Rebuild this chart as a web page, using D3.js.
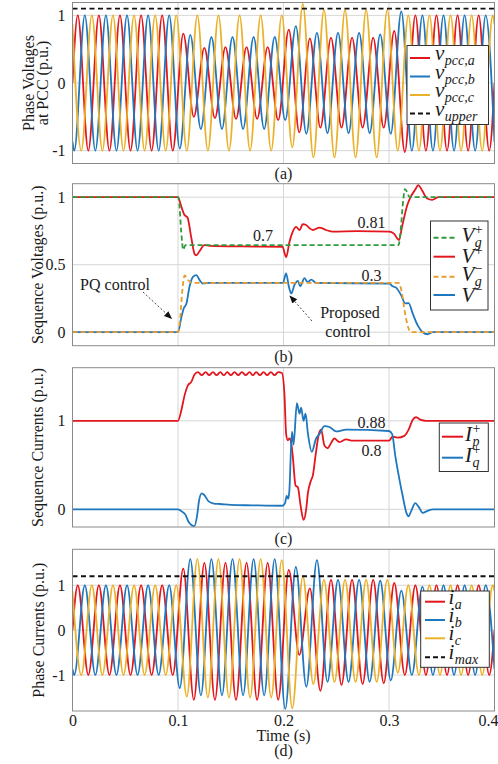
<!DOCTYPE html>
<html>
<head>
<meta charset="utf-8">
<script src="https://cdn.jsdelivr.net/npm/d3@7"></script>
<style>
  body { margin: 0; background: #fff; }
  svg text { font-family: "Liberation Serif", "Times New Roman", serif; fill: #1a1a1a; }
</style>
</head>
<body>
<div id="chart"></div>
<script>
// ---------- data ----------
const timeTicks = [0, 0.1, 0.2, 0.3, 0.4];
const halfCycle = 0.01;   // 50 Hz -> one peak every 10 ms

// phase voltages at PCC: value of every successive peak / trough, plus the value at t=0 and t=0.4
const vaFirst = 0.005, vbFirst = 0.00167, vcFirst = 0.00833;
const vaPeaks = [1, -1, 1, -1, 1, -1, 1, -1, 1, -1,
  0.73, -0.5, 0.52, -0.52, 0.53, -0.53, 0.53, -0.53, 0.53, -0.55,
  0.79, -0.73, 0.66, -0.66, 0.67, -0.66, 0.67, -0.66, 0.67, -0.66,
  0.77, -1.02, 1, -1, 1, -1, 1, -1, 1, -1];
const vbPeaks = [-1, 1, -1, 1, -1, 1, -1, 1, -1, 1,
  -0.97, 0.71, -0.68, 0.68, -0.68, 0.68, -0.68, 0.68, -0.68, 0.68,
  -0.55, 0.84, -0.75, 0.74, -0.74, 0.74, -0.74, 0.74, -0.74, 0.72,
  -0.75, 1.06, -1, 1, -1, 1, -1, 1, -1, 1];
const vcPeaks = [-1, 1, -1, 1, -1, 1, -1, 1, -1, 1,
  -1, 1, -1, 1, -1, 1, -1, 1, -1, 1,
  -0.95, 1.17, -1.1, 1.08, -1.1, 1.08, -1.1, 1.08, -1.1, 1.08,
  -1, 1, -1, 1, -1, 1, -1, 1, -1, 1];
const vaEnds = [0, 0], vbEnds = [-0.87, -0.87], vcEnds = [0.87, 0.87];
const vUpper = 1.1;

// phase currents
const iaPeaks = [1, -1, 1, -1, 1, -1, 1, -1, 1, -1,
  1.37, -1.55, 1.5, -1.55, 1.5, -1.55, 1.5, -1.55, 1.5, -1.55,
  1.34, -0.55, 0.93, -1.35, 1.12, -1.22, 1.12, -1.2, 1.12, -1.18,
  1.05, -1, 1, -1, 1, -1, 1, -1, 1, -1];
const ibPeaks = [-1, 1, -1, 1, -1, 1, -1, 1, -1, 1,
  -1.29, 1.58, -1.45, 1.58, -1.45, 1.58, -1.45, 1.58, -1.45, 1.58,
  -1.75, 1.41, -1.26, 1.56, -1.15, 1.12, -1.15, 1.12, -1.15, 1.1,
  -1.12, 0.88, -1, 0.97, -1, 1, -1, 1, -1, 1];
const icPeaks = [-1, 1, -1, 1, -1, 1, -1, 1, -1, 1,
  -1.48, 1.58, -1.5, 1.58, -1.5, 1.58, -1.5, 1.58, -1.5, 1.56,
  -1.74, 1.2, -1.2, 1.12, -1.15, 1.12, -1.15, 1.12, -1.15, 1.12,
  -0.95, 1, -1, 1, -1, 1, -1, 1, -1, 1];
const iMax = 1.2;

// sequence voltages [time, value]
const vgPlus = [[0, 1], [0.1, 1], [0.101, 0.97], [0.103, 0.75], [0.105, 0.61], [0.107, 0.645],
  [0.309, 0.645], [0.311, 0.75], [0.3135, 0.98], [0.315, 1.06], [0.317, 1.04], [0.3195, 1.0], [0.4, 1]];
const vPlus = [[0, 1], [0.0999, 1], [0.1028, 0.94], [0.106, 0.87], [0.109, 0.85], [0.1126, 0.7],
  [0.1157, 0.58], [0.1173, 0.57], [0.1204, 0.6], [0.125, 0.645], [0.13, 0.64], [0.16, 0.635],
  [0.199, 0.633], [0.2025, 0.556], [0.2057, 0.67], [0.2088, 0.745], [0.212, 0.78], [0.2152, 0.757],
  [0.2183, 0.8], [0.2215, 0.794], [0.2246, 0.77], [0.2278, 0.757], [0.2341, 0.775], [0.2404, 0.757],
  [0.2467, 0.745], [0.27, 0.748], [0.3, 0.745], [0.3047, 0.73], [0.3094, 0.683], [0.3126, 0.79],
  [0.3173, 0.94], [0.3204, 1.0], [0.3252, 1.06], [0.3277, 1.09], [0.3314, 1.05], [0.3362, 0.99],
  [0.3409, 0.98], [0.347, 1.0], [0.4, 1]];
const vgMinus = [[0, 0], [0.1, 0], [0.102, 0.1], [0.104, 0.3], [0.1063, 0.42], [0.109, 0.39],
  [0.114, 0.365], [0.309, 0.365], [0.312, 0.3], [0.315, 0.15], [0.318, 0.04], [0.321, 0], [0.4, 0]];
const vMinus = [[0, 0], [0.1, 0], [0.1032, 0.11], [0.1054, 0.176], [0.1079, 0.21], [0.111, 0.34],
  [0.1142, 0.41], [0.1174, 0.423], [0.1205, 0.386], [0.1236, 0.36], [0.13, 0.366], [0.1994, 0.365],
  [0.2025, 0.435], [0.205, 0.34], [0.2073, 0.287], [0.2104, 0.35], [0.2136, 0.38], [0.2158, 0.34],
  [0.2199, 0.4], [0.223, 0.37], [0.2262, 0.39], [0.231, 0.365], [0.3003, 0.36], [0.3035, 0.34],
  [0.3067, 0.33], [0.3114, 0.275], [0.3155, 0.213], [0.3186, 0.216], [0.3224, 0.14], [0.3271, 0.052],
  [0.3319, 0.0], [0.3366, -0.015], [0.3413, 0], [0.4, 0]];

// sequence currents [time, value]
const ipPlus = [[0, 1], [0.1, 1], [0.1032, 1.12], [0.1063, 1.29], [0.1094, 1.4], [0.1126, 1.44],
  [0.1158, 1.525], [0.1189, 1.55], [0.1225, 1.515], [0.1262, 1.55], [0.1296, 1.515], [0.1331, 1.55],
  [0.1366, 1.515], [0.1401, 1.55], [0.1434, 1.515], [0.1467, 1.55], [0.1501, 1.515], [0.1536, 1.55],
  [0.1571, 1.515], [0.1606, 1.55], [0.1642, 1.515], [0.1678, 1.55], [0.171, 1.515], [0.1741, 1.55],
  [0.1776, 1.515], [0.1811, 1.55], [0.1845, 1.515], [0.188, 1.55], [0.1915, 1.515], [0.195, 1.55],
  [0.1985, 1.54], [0.2009, 1.3], [0.2025, 0.85], [0.2041, 0.78], [0.2057, 0.8], [0.2073, 0.75],
  [0.2088, 0.6], [0.2114, 0.27], [0.2136, 0.25], [0.2161, 0.05], [0.219, -0.12], [0.2215, 0.0],
  [0.2231, 0.18], [0.2262, 0.33], [0.2278, 0.38], [0.2303, 0.6], [0.2335, 0.85], [0.2357, 0.9],
  [0.2388, 0.72], [0.242, 0.69], [0.2451, 0.75], [0.2483, 0.8], [0.253, 0.76], [0.2593, 0.79],
  [0.2656, 0.775], [0.3, 0.775], [0.3034, 0.82], [0.3082, 0.81], [0.3145, 0.83], [0.3186, 0.9],
  [0.3224, 1.01], [0.3256, 1.04], [0.3303, 1.01], [0.335, 1.0], [0.4, 1]];
const iqPlus = [[0, 0], [0.1, 0], [0.103, -0.02], [0.107, -0.06], [0.11, -0.14], [0.1155, -0.19],
  [0.118, -0.08], [0.12, 0.1], [0.1225, 0.18], [0.125, 0.16], [0.129, 0.09], [0.134, 0.065],
  [0.14, 0.06], [0.15, 0.05], [0.17, 0.045], [0.199, 0.04], [0.2015, 0.07], [0.203, 0.15],
  [0.2045, 0.12], [0.2055, 0.2], [0.208, 0.877], [0.2095, 0.73], [0.2127, 1.2], [0.2152, 1.08],
  [0.2167, 1.15], [0.219, 1.0], [0.2209, 1.08], [0.2231, 0.86], [0.2268, 0.65], [0.2309, 0.8],
  [0.2341, 0.85], [0.2388, 0.94], [0.2436, 0.93], [0.2499, 0.88], [0.2593, 0.9], [0.3, 0.885],
  [0.303, 0.85], [0.306, 0.6], [0.31, 0.33], [0.313, 0.15], [0.3165, -0.04], [0.3186, -0.08],
  [0.321, -0.02], [0.325, 0.07], [0.328, 0.03], [0.332, -0.04], [0.336, -0.02], [0.342, 0], [0.4, 0]];

// ---------- layout ----------
const W = 498, H = 764;
const xLeft = 72.5, xRight = 494.5;
const colors = { red: "#e3161d", blue: "#1f77bd", yellow: "#ebb12a", green: "#2f9a3c", orange: "#e89b2e" };

const svg = d3.select("#chart").append("svg")
  .attr("width", W).attr("height", H)
  .style("background", "#fff");

const x = d3.scaleLinear().domain([0, 0.4]).range([xLeft, xRight]);

function peakSeries(first, peaks, ends) {
  const pts = [[0, ends[0]]];
  peaks.forEach((v, k) => pts.push([first + k * halfCycle, v]));
  pts.push([0.4, ends[1]]);
  return pts;
}

function makePanel(id, top, bottom, domain, ticks) {
  const y = d3.scaleLinear().domain(domain).range([bottom, top]);
  svg.append("clipPath").attr("id", id).append("rect")
    .attr("x", xLeft).attr("y", top).attr("width", xRight - xLeft).attr("height", bottom - top);
  const g = svg.append("g");

  // grid
  g.selectAll(".gx").data([0.1, 0.2, 0.3]).join("line")
    .attr("x1", d => x(d)).attr("x2", d => x(d)).attr("y1", top).attr("y2", bottom)
    .attr("stroke", "#d6d6d6").attr("stroke-width", 1);
  g.selectAll(".gy").data(ticks).join("line")
    .attr("x1", xLeft).attr("x2", xRight).attr("y1", d => y(d)).attr("y2", d => y(d))
    .attr("stroke", "#d6d6d6").attr("stroke-width", 1);

  // y tick labels
  const ax = g.append("g").attr("transform", `translate(${xLeft},0)`)
    .call(d3.axisLeft(y).tickValues(ticks).tickSize(0).tickPadding(7).tickFormat(d => String(d)));
  ax.select(".domain").remove();
  ax.attr("font-family", null).attr("font-size", null);
  ax.selectAll("text").style("font-size", "16px").attr("fill", "#1a1a1a");

  const plot = g.append("g").attr("clip-path", `url(#${id})`);
  const line = d3.line().x(d => x(d[0])).y(d => y(d[1])).curve(d3.curveMonotoneX);

  return { y, g, plot, line, top, bottom };
}

function drawLine(p, data, color, dash) {
  p.plot.append("path").datum(data)
    .attr("d", p.line)
    .attr("fill", "none")
    .attr("stroke", color)
    .attr("stroke-width", 1.8)
    .attr("stroke-dasharray", dash || null);
}

function drawHLine(p, v, color) {
  p.plot.append("line")
    .attr("x1", xLeft).attr("x2", xRight).attr("y1", p.y(v)).attr("y2", p.y(v))
    .attr("stroke", color).attr("stroke-width", 1.8).attr("stroke-dasharray", "5,3.5");
}

function frame(p) {
  p.g.append("rect")
    .attr("x", xLeft).attr("y", p.top).attr("width", xRight - xLeft).attr("height", p.bottom - p.top)
    .attr("fill", "none").attr("stroke", "#8a8a8a").attr("stroke-width", 1);
}

function yTitle(lines, xs, p) {
  const cy = (p.top + p.bottom) / 2;
  lines.forEach((t, i) => {
    svg.append("text")
      .attr("transform", `translate(${xs[i]},${cy}) rotate(-90)`)
      .attr("text-anchor", "middle").attr("dy", "0.35em")
      .style("font-size", "16px").text(t);
  });
}

function caption(t, yBase) {
  svg.append("text").attr("x", (xLeft + xRight) / 2).attr("y", yBase)
    .attr("text-anchor", "middle").style("font-size", "16px").text(t);
}

function mathLabel(g, tx, ty, main, sub, sup) {
  const m = g.append("text").attr("x", tx).attr("y", ty)
    .style("font-style", "italic").style("font-size", "21px").text(main);
  const w = m.node().getComputedTextLength();
  if (sub) g.append("text").attr("x", tx + w + 0.5).attr("y", ty + 5)
    .style("font-style", "italic").style("font-size", "14px").text(sub);
  if (sup) g.append("text").attr("x", tx + w + 0.5).attr("y", ty - 8)
    .style("font-size", "14px").text(sup);
}

function legend(box, lx, tx, items) {
  const g = svg.append("g");
  g.append("rect").attr("x", box[0]).attr("y", box[1]).attr("width", box[2] - box[0]).attr("height", box[3] - box[1])
    .attr("fill", "#fff").attr("stroke", "#333").attr("stroke-width", 1);
  items.forEach(it => {
    g.append("line").attr("x1", lx[0]).attr("x2", lx[1]).attr("y1", it.y).attr("y2", it.y)
      .attr("stroke", it.color).attr("stroke-width", 2).attr("stroke-dasharray", it.dash ? "5,3" : null);
    mathLabel(g, tx, it.y + it.dy, it.main, it.sub, it.sup);
  });
}

// ---------- (a) phase voltages ----------
const pa = makePanel("clipA", 2.5, 163.5, [-1.19, 1.19], [-1, 0, 1]);
drawLine(pa, peakSeries(vaFirst, vaPeaks, vaEnds), colors.red);
drawLine(pa, peakSeries(vbFirst, vbPeaks, vbEnds), colors.blue);
drawLine(pa, peakSeries(vcFirst, vcPeaks, vcEnds), colors.yellow);
drawHLine(pa, vUpper, "#111");
frame(pa);
yTitle(["Phase Voltages", "at PCC (p.u.)"], [28, 42.5], pa);
caption("(a)", 178.5);
legend([407, 45.5, 488.5, 124.5], [410, 430], 435, [
  { y: 58, color: colors.red, main: "v", sub: "pcc,a", dy: 2 },
  { y: 76.5, color: colors.blue, main: "v", sub: "pcc,b", dy: 2 },
  { y: 95, color: colors.yellow, main: "v", sub: "pcc,c", dy: 2 },
  { y: 113.5, color: "#111", dash: true, main: "v", sub: "upper", dy: 2 }
]);

// ---------- (b) sequence voltages ----------
const pb = makePanel("clipB", 183.7, 345.7, [-0.1, 1.1], [0, 0.5, 1]);
drawLine(pb, vPlus, colors.red);
drawLine(pb, vMinus, colors.blue);
drawLine(pb, vgPlus, colors.green, "5,3");
drawLine(pb, vgMinus, colors.orange, "5,3");
frame(pb);
yTitle(["Sequence Voltages (p.u.)"], [37], pb);
caption("(b)", 362);

const annB = [
  { t: "0.7", x: 263, y: 240.5 }, { t: "0.81", x: 371.5, y: 228 }, { t: "0.3", x: 371.5, y: 280.5 },
  { t: "PQ control", x: 115, y: 290 }, { t: "Proposed", x: 350, y: 318 }, { t: "control", x: 348, y: 337 }
];
svg.selectAll(".annB").data(annB).join("text")
  .attr("x", d => d.x).attr("y", d => d.y).attr("text-anchor", "middle")
  .style("font-size", "16px").text(d => d.t);

svg.append("defs").append("marker")
  .attr("id", "arrow").attr("viewBox", "0 0 10 10").attr("refX", 9).attr("refY", 5)
  .attr("markerWidth", 9).attr("markerHeight", 9).attr("orient", "auto")
  .append("path").attr("d", "M0,1 L10,5 L0,9 Z").attr("fill", "#111");
[[143, 292, 171.5, 318.5], [312, 321, 290, 296]].forEach(a => {
  svg.append("line").attr("x1", a[0]).attr("y1", a[1]).attr("x2", a[2]).attr("y2", a[3])
    .attr("stroke", "#333").attr("stroke-width", 0.9).attr("stroke-dasharray", "2,2")
    .attr("marker-end", "url(#arrow)");
});

legend([430.5, 221, 488, 310], [433.5, 455], 461.5, [
  { y: 237.7, color: colors.green, dash: true, main: "V", sub: "g", sup: "+", dy: 4 },
  { y: 256.7, color: colors.red, main: "V", sup: "+", dy: 6.5 },
  { y: 276.7, color: colors.orange, dash: true, main: "V", sub: "g", sup: "\u2212", dy: 4 },
  { y: 295, color: colors.blue, main: "V", sup: "\u2212", dy: 6.5 }
]);

// ---------- (c) sequence currents ----------
const pc = makePanel("clipC", 367.7, 527, [-0.2, 1.6], [0, 1]);
drawLine(pc, ipPlus, colors.red);
drawLine(pc, iqPlus, colors.blue);
frame(pc);
yTitle(["Sequence Currents (p.u.)"], [37], pc);
caption("(c)", 543.5);
svg.selectAll(".annC").data([{ t: "0.88", x: 371.5, y: 428 }, { t: "0.8", x: 371.5, y: 455.5 }]).join("text")
  .attr("x", d => d.x).attr("y", d => d.y).attr("text-anchor", "middle")
  .style("font-size", "16px").text(d => d.t);
legend([439.3, 423, 488.3, 471.5], [442, 463], 465, [
  { y: 436.7, color: colors.red, main: "I", sub: "p", sup: "+", dy: 4 },
  { y: 457.7, color: colors.blue, main: "I", sub: "q", sup: "+", dy: 4 }
]);

// ---------- (d) phase currents ----------
const pd = makePanel("clipD", 549.3, 711, [-1.8, 1.8], [-1, 0, 1]);
drawLine(pd, peakSeries(vaFirst, iaPeaks, vaEnds), colors.red);
drawLine(pd, peakSeries(vbFirst, ibPeaks, vbEnds), colors.blue);
drawLine(pd, peakSeries(vcFirst, icPeaks, vcEnds), colors.yellow);
drawHLine(pd, iMax, "#111");
frame(pd);
yTitle(["Phase Currents (p.u.)"], [38], pd);

const xa = svg.append("g").attr("transform", `translate(0,${pd.bottom})`)
  .call(d3.axisBottom(x).tickValues(timeTicks).tickSize(0).tickPadding(4).tickFormat(d => String(d)));
xa.select(".domain").remove();
xa.attr("font-family", null).attr("font-size", null);
xa.selectAll("text").style("font-size", "16px").attr("fill", "#1a1a1a");
// last label sits against the right edge of the figure
xa.selectAll(".tick").filter(d => d === 0.4).select("text").attr("text-anchor", "end").attr("x", 3.5);

caption("Time (s)", 741);
caption("(d)", 756);
legend([420.7, 591, 489.3, 667.3], [425, 445], 448.5, [
  { y: 601.7, color: colors.red, main: "i", sub: "a", dy: 2 },
  { y: 620, color: colors.blue, main: "i", sub: "b", dy: 2 },
  { y: 638.3, color: colors.yellow, main: "i", sub: "c", dy: 2 },
  { y: 657.3, color: "#111", dash: true, main: "i", sub: "max", dy: 2 }
]);
</script>
</body>
</html>
